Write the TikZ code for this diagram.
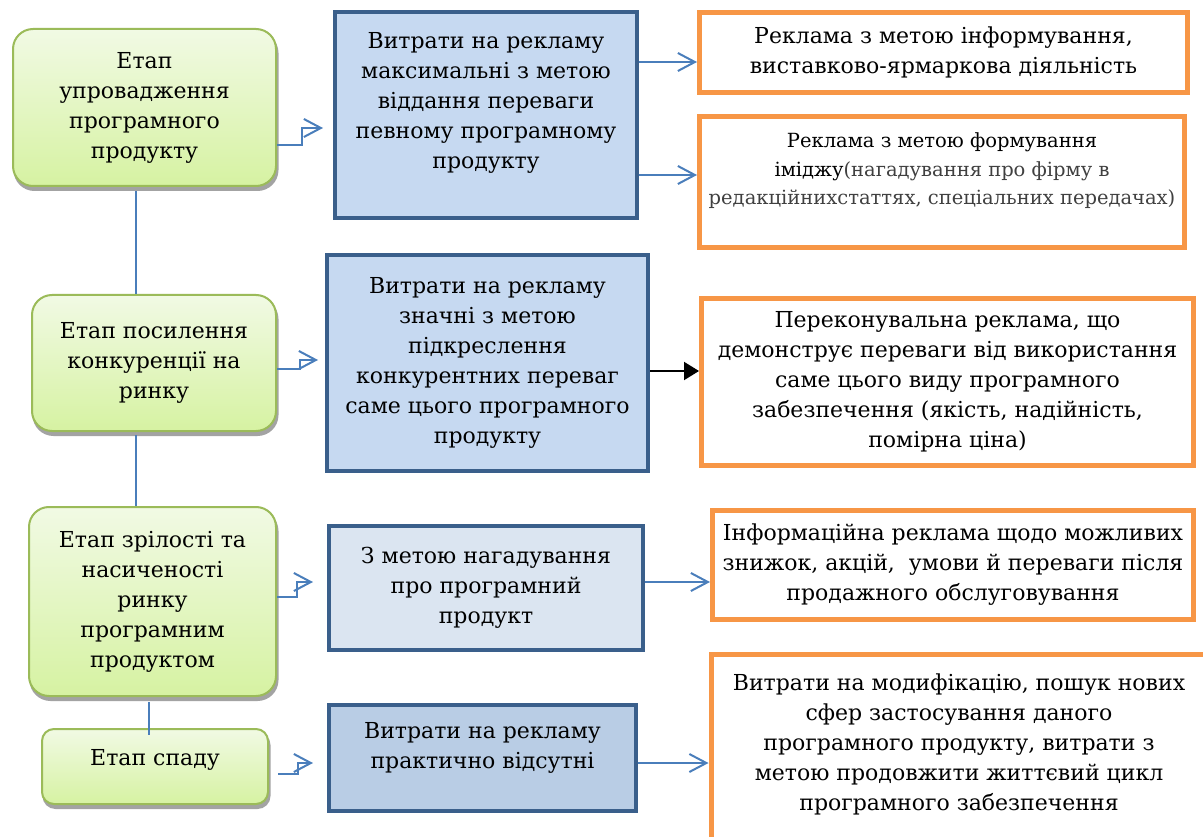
\documentclass[tikz,border=0pt]{standalone}
\usepackage{fontspec}
\setmainfont{DejaVu Serif}
\usetikzlibrary{arrows.meta}

\definecolor{stageborder}{HTML}{9BBB59}
\definecolor{stagetop}{HTML}{F1FAE4}
\definecolor{stagebottom}{HTML}{D6F2A2}
\definecolor{stageshadow}{HTML}{A3A3A3}
\definecolor{costborder}{HTML}{3A5F8B}
\definecolor{costfill}{HTML}{C6D9F1}
\definecolor{costlight}{HTML}{DBE5F1}
\definecolor{costdark}{HTML}{B9CDE5}
\definecolor{adborder}{HTML}{F79646}
\definecolor{linkblue}{HTML}{4A7EBB}
\definecolor{notegray}{HTML}{404040}

\begin{document}
\begin{tikzpicture}[x=1pt,y=-1pt,
    stage node/.style={draw=stageborder,line width=2pt,rounded corners=20pt,top color=stagetop,bottom color=stagebottom,
        preaction={draw=stageshadow,fill=stageshadow,transform canvas={xshift=1.5pt,yshift=-4pt}},
        align=center,inner sep=0pt,font=\rmfamily\fontsize{22}{30}\selectfont},
    cost node/.style={draw=costborder,line width=4pt,fill=costfill,align=center,inner sep=0pt,font=\rmfamily\fontsize{22}{30}\selectfont},
    ad node/.style={draw=adborder,line width=5pt,fill=white,align=center,inner sep=0pt,font=\rmfamily\fontsize{22}{30}\selectfont},
    link/.style={draw=linkblue,line width=2pt,-{Straight Barb[length=17pt,width=18pt]}},
    push/.style={draw=black,line width=2pt,-{Triangle[length=15pt,width=18pt]}},
    stem/.style={draw=linkblue,line width=2pt}]
    \useasboundingbox (0,0) rectangle (1203,837);

    % stages
    \node[stage node,minimum width=263pt,minimum height=157pt] (1) at (144.5,107.5) {Етап\\упровадження\\програмного\\продукту};
    \node[stage node,minimum width=244pt,minimum height=136pt] (2) at (154,363) {Етап посилення\\конкуренції на\\ринку};
    \node[stage node,minimum width=247pt,minimum height=189pt] (3) at (152.5,601.5) {Етап зрілості та\\насиченості\\ринку\\програмним\\продуктом};
    \node[stage node,minimum width=226pt,minimum height=75pt,rounded corners=12pt,text depth=18pt] (4) at (155,766.5) {Етап спаду};

    % costs
    \node[cost node,minimum width=302pt,minimum height=206pt,text depth=30pt] (5) at (486,115) {Витрати на рекламу\\максимальні з метою\\віддання переваги\\певному програмному\\продукту};
    \node[cost node,minimum width=321pt,minimum height=216pt] (6) at (487.5,363) {Витрати на рекламу\\значні з метою\\підкреслення\\конкурентних переваг\\саме цього програмного\\продукту};
    \node[cost node,fill=costlight,minimum width=314pt,minimum height=124pt] (7) at (486,588) {З метою нагадування\\про програмний\\продукт};
    \node[cost node,fill=costdark,minimum width=307pt,minimum height=106pt,text depth=26pt] (8) at (482.5,758) {Витрати на рекламу\\практично відсутні};

    % advertising
    \node[ad node,minimum width=488pt,minimum height=80pt] (9) at (943.5,52.5) {Реклама з метою інформування,\\виставково-ярмаркова діяльність};
    \node[ad node,minimum width=485pt,minimum height=131pt,text depth=26pt,font=\rmfamily\fontsize{19.5}{28.5}\selectfont] (10) at (942,182)
        {Реклама з метою формування\\іміджу{\color{notegray}(нагадування про фірму в}\\{\color{notegray}редакційнихстаттях, спеціальних передачах)}};
    \node[ad node,minimum width=492pt,minimum height=167pt] (11) at (947.5,382) {Переконувальна реклама, що\\демонструє переваги від використання\\саме цього виду програмного\\забезпечення (якість, надійність,\\помірна ціна)};
    \node[ad node,minimum width=481pt,minimum height=109pt] (12) at (953,565) {Інформаційна реклама щодо можливих\\знижок, акцій,~ умови й переваги після\\продажного обслуговування};
    \node[ad node,minimum width=496pt,minimum height=200pt,text depth=24pt] (13) at (959,754) {Витрати на модифікацію, пошук нових\\сфер застосування даного\\програмного продукту, витрати з\\метою продовжити життєвий цикл\\програмного забезпечення};

    % stage -> cost
    \draw[link,shorten >=10pt] ([yshift=-37.5pt]1.east) -- ++(25,0) |- ([yshift=-13pt]5.west);
    \draw[link,shorten >=7pt] ([yshift=-6pt]2.east) -- ++(23,0) |- ([yshift=3pt]6.west);
    \draw[link,shorten >=14pt] ([yshift=4.5pt]3.east) -- ++(20,0) |- ([yshift=6pt]7.west);
    \draw[link,shorten <=9pt,shorten >=14pt] ([yshift=-7.5pt]4.east) -- ++(29,0) |- ([yshift=-5pt]8.west);

    % cost -> advertising
    \path[every edge/.style={link}]
        ([yshift=-9.5pt]9.west -| 5.east) edge ([yshift=-9.5pt]9.west)
        ([yshift=7pt]10.west -| 5.east) edge ([yshift=7pt]10.west)
        ([yshift=6pt]7.east) edge ([yshift=6pt]7.east -| 12.west)
        ([yshift=-5pt]8.east) edge ([yshift=-5pt]8.east -| 13.west)
    ;
    \draw[push] ([yshift=-8pt]6.east) -- ([yshift=-8pt]6.east -| 11.west);

    % stages chain
    \draw[stem,shorten <=4pt] ([xshift=-8.5pt]1.south) -- ([xshift=-8.5pt]1.south |- 2.north);
    \draw[stem,shorten <=3pt] ([xshift=-18pt]2.south) -- ([xshift=-18pt]2.south |- 3.north);
    \draw[stem,shorten <=5pt,shorten >=-7pt] ([xshift=-3.5pt]3.south) -- ([xshift=-3.5pt]3.south |- 4.north);
\end{tikzpicture}
\end{document}
